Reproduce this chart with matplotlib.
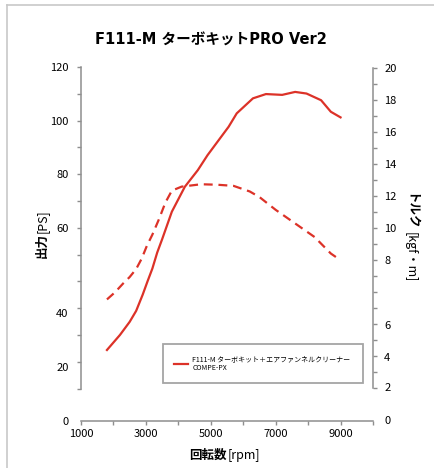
import matplotlib
matplotlib.use("Agg")
import matplotlib.pyplot as plt
from matplotlib.lines import Line2D
from matplotlib.ticker import FixedLocator

plt.rcParams["font.family"] = ["Noto Sans CJK JP", "DejaVu Sans"]

# Data.
power_rpm = [1800, 2200, 2500, 2700, 2900, 3050, 3200, 3350, 3500, 3800,
             4200, 4600, 4900, 5550, 5800, 6300, 6700, 7200, 7600, 7950,
             8400, 8700, 9000]
power_ps = [14.4, 20.0, 24.9, 29.0, 35.0, 40.0, 44.8, 50.8, 55.7, 66.0,
            75.3, 81.5, 87.1, 97.7, 102.7, 108.3, 109.9, 109.6, 110.7, 110.1,
            107.6, 103.3, 101.2]

torque_rpm = [1800, 2050, 2300, 2500, 2700, 2870, 3030, 3200, 3400, 3600,
              3800, 4100, 4700, 5200, 5700, 6200, 6500, 7000, 7600, 8200,
              8700, 9000]
torque_kgfm = [5.55, 6.0, 6.55, 6.95, 7.45, 8.1, 8.9, 9.6, 10.55, 11.6,
               12.35, 12.6, 12.75, 12.72, 12.65, 12.3, 11.95, 11.15, 10.3, 9.45,
               8.42, 8.0]

x_labels = ["1000", "3000", "5000", "7000", "9000"]
x_label_pos = [1000, 3000, 5000, 7000, 9000]
left_labels = ["120", "100", "80", "60", "40", "20", "0"]
left_label_pos = [120, 100, 80, 60, 28.1, 8.1, -12.1]
right_labels = ["20", "18", "16", "14", "12", "10", "8", "6", "4", "2", "0"]
right_label_pos = [20, 18, 16, 14, 12, 10, 8, 3.94, 1.96, 0.1, -2.0]

series_label = "F111-M ターボキット＋エアファンネルクリーナー\nCOMPE-PX"

RED = "#dc3228"
GRAY = "#8e8e8e"
W, H = 435, 468

fig = plt.figure(figsize=(W / 100, H / 100), dpi=100)
ax = fig.add_axes([81 / W, (H - 421) / H, 292 / W, 354 / H])
ax2 = ax.twinx()

ax.set_xlim(1000, 10000)
ax.set_ylim(-12.1, 120)
ax2.set_ylim(-2.05, 20.08)

line, = ax.plot(power_rpm, power_ps, color=RED, lw=1.6, label=series_label)
ax2.plot(torque_rpm, torque_kgfm, color=RED, lw=1.6, dashes=(4, 2.6))

# spines
for a in (ax, ax2):
    a.spines["top"].set_visible(False)
    for s in a.spines.values():
        s.set_color(GRAY)
        s.set_linewidth(1.1)
ax.spines["right"].set_visible(False)
ax2.spines["left"].set_visible(False)
ax2.spines["bottom"].set_visible(False)
ax.spines["left"].set_bounds(0, 120)
ax2.spines["right"].set_bounds(0, 20)

# x axis: minor marks every 1000, labels every 2000
ax.xaxis.remove_overlapping_locs = False
ax.set_xticks(x_label_pos, x_labels)
ax.xaxis.set_minor_locator(FixedLocator(range(1000, 10001, 1000)))
ax.tick_params(axis="x", which="major", length=0, pad=6, labelsize=8)
ax.tick_params(axis="x", which="minor", length=3, width=1, color=GRAY, direction="out")

# left axis
ax.yaxis.remove_overlapping_locs = False
ax.set_yticks(left_label_pos, left_labels)
ax.yaxis.set_minor_locator(FixedLocator(range(0, 121, 10)))
ax.tick_params(axis="y", which="major", length=0, pad=9, labelsize=8)
ax.tick_params(axis="y", which="minor", length=3, width=1, color=GRAY, direction="out")

# right axis
ax2.yaxis.remove_overlapping_locs = False
ax2.set_yticks(right_label_pos, right_labels)
ax2.yaxis.set_minor_locator(FixedLocator(range(0, 21)))
ax2.tick_params(axis="y", which="major", length=0, pad=8, labelsize=8)
ax2.tick_params(axis="y", which="minor", length=3, width=1, color=GRAY, direction="out")

# titles / axis labels (bold part + regular part)
fig.text(211 / W, 1 - 40 / H, "F111-M ターボキットPRO Ver2", ha="center", va="center",
         fontsize=10.5, fontweight="bold", family=["DejaVu Sans", "Noto Sans CJK JP"])
fig.text(227 / W, 1 - 455 / H, "回転数", ha="right", va="center", fontsize=9, fontweight="bold")
fig.text(228 / W, 1 - 455 / H, "[rpm]", ha="left", va="center", fontsize=9)
fig.text(42 / W, 1 - 233 / H, "出力", ha="center", va="top", rotation=90,
         fontsize=9, fontweight="bold")
fig.text(42 / W, 1 - 233 / H, "[PS]", ha="center", va="bottom", rotation=90, fontsize=9)
fig.text(410 / W, 1 - 193 / H, "トルク", ha="center", va="top", rotation=-90,
         fontsize=9, fontweight="bold")
fig.text(410 / W, 1 - 232 / H, "[kgf・m]", ha="center", va="top", rotation=-90, fontsize=9)

leg = ax2.legend(handles=[line], loc="upper left", mode="expand",
                 bbox_to_anchor=(163 / W, 1 - 384 / H, 200 / W, 40 / H),
                 bbox_transform=fig.transFigure, borderaxespad=0, fancybox=False,
                 fontsize=5, handlelength=2, handletextpad=0.6, borderpad=1.6)
leg.get_frame().set_edgecolor(GRAY)
leg.get_frame().set_linewidth(1.3)

# outer frame (only left and top edges are visible in the crop)
fig.add_artist(Line2D([7 / W, 7 / W], [0, 1 - 5 / H], color="#c8c8c8", lw=1.2))
fig.add_artist(Line2D([7 / W, 1], [1 - 5 / H, 1 - 5 / H], color="#c8c8c8", lw=1.2))

fig.savefig("out.png", dpi=100)
